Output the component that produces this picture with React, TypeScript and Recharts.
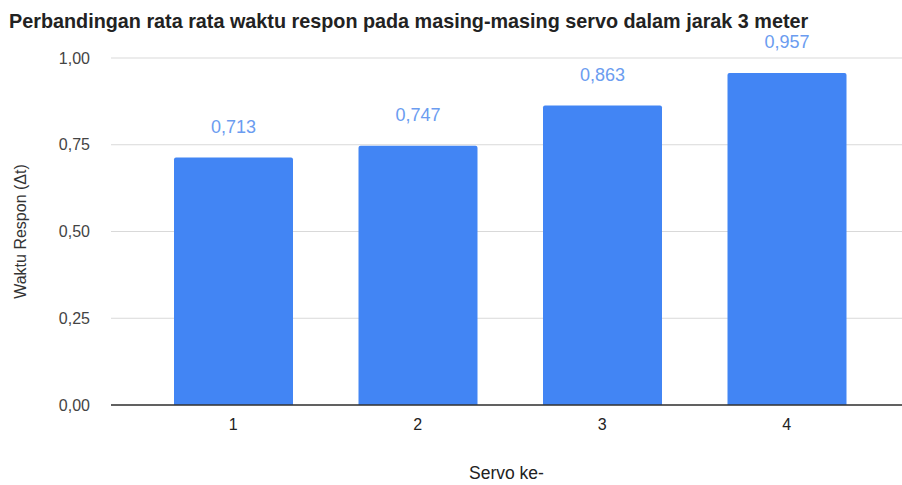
import React from "react";
import {
  Bar,
  BarChart,
  CartesianGrid,
  Label,
  LabelList,
  XAxis,
  YAxis,
} from "recharts";

const servo = ["1", "2", "3", "4"];
const waktuRespon = [0.713, 0.747, 0.863, 0.957];
const yTicks = [0, 0.25, 0.5, 0.75, 1];

const data = servo.map((s, i) => ({ servo: s, value: waktuRespon[i] }));

const FONT = "'Liberation Sans', Arial, sans-serif";
const comma = (v: number, d: number) => v.toFixed(d).replace(".", ",");

if (typeof document !== "undefined") document.body.style.margin = "0";

export default function App() {
  return (
    <div style={{ position: "relative", width: 902, height: 485, background: "#fff", fontFamily: FONT }}>
      <div
        style={{
          position: "absolute",
          left: 9,
          top: 10,
          fontSize: 19.8,
          fontWeight: 700,
          color: "#222",
          whiteSpace: "nowrap",
        }}
      >
        Perbandingan rata rata waktu respon pada masing-masing servo dalam jarak 3 meter
      </div>
      <BarChart
        width={902}
        height={485}
        data={data}
        margin={{ top: 58, right: 0, bottom: 0, left: 0 }}
      >
        <CartesianGrid vertical={false} stroke="#d9d9d9" />
        <XAxis
          dataKey="servo"
          height={80}
          tickLine={false}
          axisLine={{ stroke: "#333", strokeWidth: 1.5 }}
          padding={{ left: 30, right: 23 }}
          tick={{ fill: "#222", fontSize: 16, fontFamily: FONT }}
          tickSize={12}
        >
          <Label
            value="Servo ke-"
            position="insideBottom"
            offset={6}
            style={{ fill: "#222", fontSize: 17.5, fontFamily: FONT }}
          />
        </XAxis>
        <YAxis
          width={111}
          domain={[0, 1]}
          ticks={yTicks}
          axisLine={false}
          tickLine={false}
          tickSize={19}
          tickFormatter={(v: number) => comma(v, 2)}
          tick={{ fill: "#444", fontSize: 16, fontFamily: FONT }}
        >
          <Label
            value="Waktu Respon (Δt)"
            angle={-90}
            position="insideLeft"
            offset={20}
            style={{ textAnchor: "middle", fill: "#333", fontSize: 16, fontFamily: FONT }}
          />
        </YAxis>
        <Bar dataKey="value" fill="#4285f4" barSize={119} radius={[2, 2, 0, 0]} isAnimationActive={false}>
          <LabelList
            dataKey="value"
            position="top"
            offset={25}
            formatter={(v: number) => comma(v, 3)}
            style={{ fill: "#6b9cf0", fontSize: 18, fontFamily: FONT }}
          />
        </Bar>
      </BarChart>
    </div>
  );
}
